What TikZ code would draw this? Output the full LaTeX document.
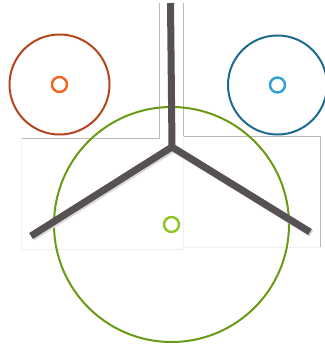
\documentclass[tikz,border=0pt]{standalone}
\usetikzlibrary{positioning}

\definecolor{rustring}{HTML}{B3461C}
\definecolor{rustdot}{HTML}{F0651E}
\definecolor{bluering}{HTML}{1E6A8E}
\definecolor{bluedot}{HTML}{2FA0D4}
\definecolor{greenring}{HTML}{6A9A14}
\definecolor{greendot}{HTML}{8CC61C}
\definecolor{stemgray}{HTML}{585154}

\begin{document}
\begin{tikzpicture}[
  x=1pt, y=-1pt,
  ring/.style={circle, draw, line width=2pt, inner sep=0pt, minimum size=#1},
  dot/.style={circle, draw, line width=2.4pt, inner sep=0pt, minimum size=15pt},
  frame/.style={draw=gray!55, line width=0.8pt},
  faint/.style={draw=gray!12, line width=0.6pt},
  spoke/.style={draw=stemgray, line width=7pt, line cap=butt, line join=miter},
  shade/.style={draw=gray!30, line width=7pt, line cap=butt, line join=miter}
]
\useasboundingbox (0,0) rectangle (324,345);

% --- faint panel edges behind everything ---
\draw[frame] (159,3) -- (159,138) -- (21,138);
\draw[frame] (183,3) -- (183,136) -- (320,136) -- (320,247);
\draw[faint] (21,138) -- (21,249) -- (183,249) -- (183,136);
\draw[faint] (183,247) -- (320,247);

% --- three rings, each with its small centre mark ---
\node[ring=100pt, draw=rustring] (rust) at (59.5,84.5) {};
\node[dot, draw=rustdot] (rustc) at (rust.center) {};
\node[ring=99pt, draw=bluering] (blue) at (277.5,85) {};
\node[dot, draw=bluedot] (bluec) at (blue.center) {};
\node[ring=235pt, draw=greenring] (green) at (171.5,224.5) {};
\node[dot, draw=greendot] (greenc) at (green.center) {};

% --- the Y that splits the plane ---
\coordinate (hub) at (172,147);
\coordinate (top) at (170.5,3);
\coordinate (lend) at (31,236);
\coordinate (rend) at (310,232);

\draw[shade] ([xshift=1.5pt,yshift=-1.5pt]lend) -- ([xshift=1.5pt,yshift=-1.5pt]hub) -- ([xshift=1.5pt,yshift=-1.5pt]rend);
\draw[spoke] (top) -- (hub);
\draw[spoke] (lend) -- (hub) -- (rend);

\end{tikzpicture}
\end{document}
